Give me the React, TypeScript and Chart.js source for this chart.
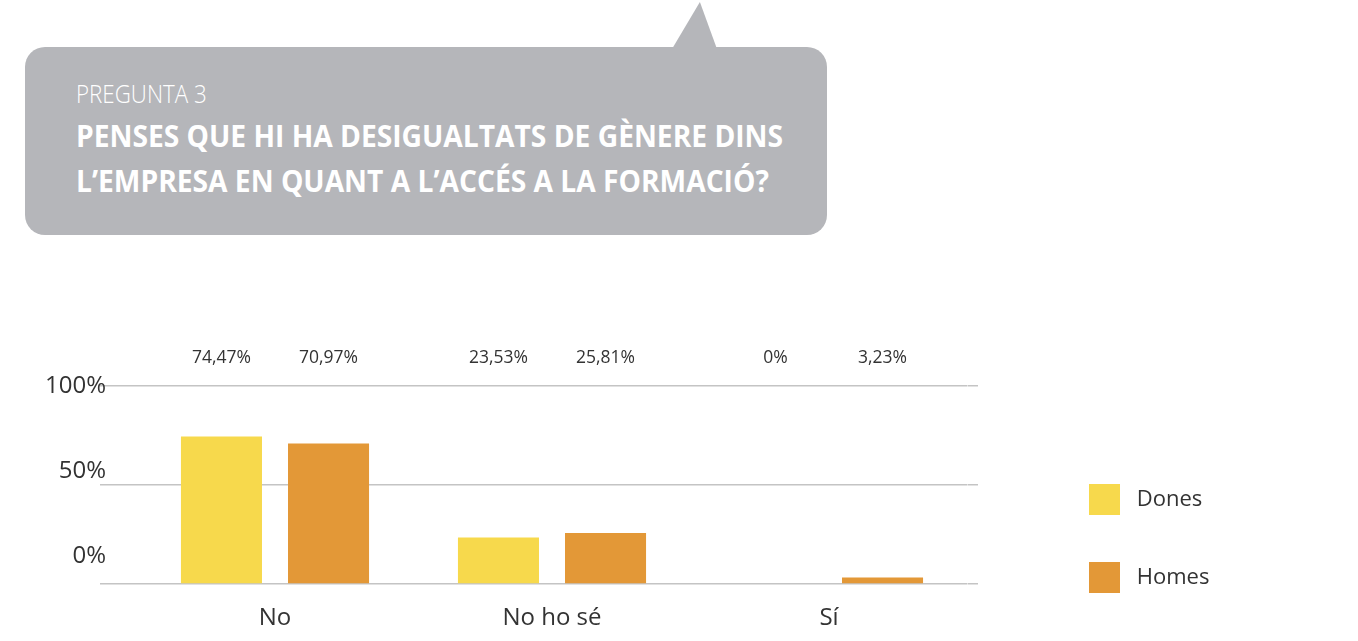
import React, { useEffect, useRef } from 'react';
import { Chart, registerables } from 'chart.js';

Chart.register(...registerables);

// ---- data ----
const categories = ['No', 'No ho sé', 'Sí'];
const seriesNames = ['Dones', 'Homes'];
const donesValues = [74.47, 23.53, 0];
const homesValues = [70.97, 25.81, 3.23];
const seriesColors = ['#F7D94C', '#E39837'];
const yTickValues = [0, 50, 100];

const questionLabel = 'PREGUNTA 3';
const questionLines = [
  'PENSES QUE HI HA DESIGUALTATS DE GÈNERE DINS',
  'L’EMPRESA EN QUANT A L’ACCÉS A LA FORMACIÓ?',
];

const FONT = "'Open Sans', 'Noto Sans', sans-serif";
const TEXT = '#333333';
const GRID = '#c4c4c4';

const fmtPct = (v: number) => String(v).replace('.', ',') + '%';

const valueLabels = {
  id: 'valueLabels',
  afterDatasetsDraw(chart: any) {
    const { ctx, chartArea } = chart;
    ctx.save();
    ctx.font = `17.5px ${FONT}`;
    ctx.fillStyle = TEXT;
    ctx.textAlign = 'center';
    ctx.textBaseline = 'middle';
    chart.data.datasets.forEach((ds: any, i: number) => {
      const meta = chart.getDatasetMeta(i);
      meta.data.forEach((bar: any, j: number) => {
        ctx.fillText(fmtPct(ds.data[j]), bar.x, chartArea.top - 28.2);
      });
    });
    ctx.restore();
  },
};

export default function App() {
  const canvasRef = useRef<HTMLCanvasElement | null>(null);

  useEffect(() => {
    const canvas = canvasRef.current;
    if (!canvas) return;
    const chart = new Chart(canvas, {
      type: 'bar',
      data: {
        labels: categories,
        datasets: [
          {
            label: seriesNames[0],
            data: donesValues,
            backgroundColor: seriesColors[0],
            borderWidth: 0,
            barPercentage: 0.757,
            categoryPercentage: 0.773,
          },
          {
            label: seriesNames[1],
            data: homesValues,
            backgroundColor: seriesColors[1],
            borderWidth: 0,
            barPercentage: 0.757,
            categoryPercentage: 0.773,
          },
        ],
      },
      options: {
        responsive: false,
        animation: false,
        devicePixelRatio: 1,
        events: [],
        layout: { padding: { top: 386, bottom: 1, left: 0, right: 116 } },
        plugins: {
          tooltip: { enabled: false },
          title: { display: false },
          legend: {
            position: 'right',
            align: 'end',
            maxWidth: 200,
            labels: {
              boxWidth: 31,
              boxHeight: 31,
              padding: 47,
              color: TEXT,
              font: { family: FONT, size: 22 },
              generateLabels: (chart: any) =>
                chart.data.datasets.map((ds: any, i: number) => ({
                  text: ' ' + ds.label + '                        ',
                  fillStyle: ds.backgroundColor,
                  strokeStyle: ds.backgroundColor,
                  lineWidth: 0,
                  hidden: false,
                  datasetIndex: i,
                  fontColor: TEXT,
                })),
            },
          },
        },
        scales: {
          x: {
            type: 'category',
            offset: true,
            grid: { display: false, drawTicks: false },
            border: { display: false },
            ticks: {
              color: TEXT,
              padding: 20,
              font: { family: FONT, size: 24 },
              maxRotation: 0,
              autoSkip: false,
            },
            afterFit: (s: any) => {
              s.height = 56;
            },
          },
          y: {
            type: 'linear',
            position: 'left',
            weight: 0,
            min: 0,
            max: 100,
            afterBuildTicks: (s: any) => {
              s.ticks = yTickValues.map((v) => ({ value: v }));
            },
            grid: { color: GRID, lineWidth: 1.5, drawTicks: true, tickLength: 36.5, tickColor: GRID },
            border: { display: false },
            ticks: { display: false },
            afterFit: (s: any) => {
              s.width = 30.5;
            },
          },
          yLabels: {
            type: 'linear',
            position: 'left',
            weight: 1,
            min: -16.29,
            max: 100.18,
            afterBuildTicks: (s: any) => {
              s.ticks = yTickValues.map((v) => ({ value: v }));
            },
            grid: { display: false, drawTicks: false },
            border: { display: false },
            ticks: {
              color: TEXT,
              padding: 0,
              autoSkip: false,
              font: { family: FONT, size: 24 },
              callback: (v: any) => v + '%',
            },
            afterFit: (s: any) => {
              s.width = 106;
            },
          },
          yRight: {
            type: 'linear',
            position: 'right',
            weight: 0,
            min: 0,
            max: 100,
            afterBuildTicks: (s: any) => {
              s.ticks = yTickValues.map((v) => ({ value: v }));
            },
            grid: {
              color: GRID,
              lineWidth: 1.5,
              drawOnChartArea: false,
              drawTicks: true,
              tickLength: 10.5,
              tickColor: GRID,
            },
            border: { display: false },
            ticks: { display: false },
            afterFit: (s: any) => {
              s.width = 74.5;
            },
          },
        },
      },
      plugins: [valueLabels],
    } as any);
    return () => chart.destroy();
  }, []);

  const gray = '#b5b6ba';

  return (
    <div
      style={{
        position: 'fixed',
        left: 0,
        top: 0,
        width: 1358,
        height: 641,
        background: '#ffffff',
        overflow: 'hidden',
        fontFamily: FONT,
      }}
    >
      <div
        style={{
          position: 'absolute',
          left: 672,
          top: 2,
          width: 45,
          height: 47,
          background: gray,
          clipPath: 'polygon(0% 100%, 62% 0%, 100% 100%)',
        }}
      />
      <div
        style={{
          position: 'absolute',
          left: 25,
          top: 47,
          width: 802,
          height: 188,
          borderRadius: 20,
          background: gray,
        }}
      />
      <div
        style={{
          position: 'absolute',
          left: 76,
          top: 80.8,
          fontSize: 25,
          lineHeight: '25px',
          fontWeight: 300,
          color: '#ffffff',
          whiteSpace: 'nowrap',
          transform: 'scaleX(0.894)',
          transformOrigin: 'left top',
        }}
      >
        {questionLabel}
      </div>
      <div
        style={{
          position: 'absolute',
          left: 76,
          top: 112.6,
          fontSize: 30,
          lineHeight: '45px',
          fontWeight: 700,
          color: '#ffffff',
          whiteSpace: 'nowrap',
          transform: 'scaleX(0.94)',
          transformOrigin: 'left top',
        }}
      >
        {questionLines.map((l, i) => (
          <div key={i}>{l}</div>
        ))}
      </div>
      <canvas
        ref={canvasRef}
        width={1358}
        height={641}
        style={{ position: 'absolute', left: 0, top: 0, width: 1358, height: 641 }}
      />
    </div>
  );
}
